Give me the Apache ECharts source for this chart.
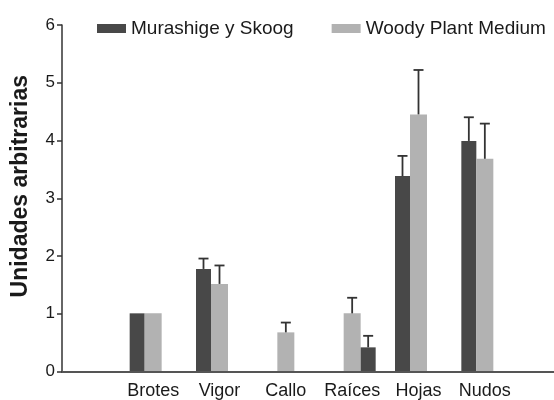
<!DOCTYPE html>
<html>
<head>
<meta charset="utf-8">
<script src="https://cdn.jsdelivr.net/npm/echarts@6/dist/echarts.min.js"></script>
<style>
  html, body { margin: 0; padding: 0; background: #fff; }
  #chart { width: 554px; height: 400px; }
</style>
</head>
<body>
<div id="chart"></div>
<script>
// datos
const categories = ['Brotes', 'Vigor', 'Callo', 'Raíces', 'Hojas', 'Nudos'];
const msValues = [1.0, 1.77, 0, 0.41, 3.38, 3.99];
const msErrors = [0, 0.18, 0, 0.20, 0.35, 0.41];
const wpmValues = [1.0, 1.51, 0.67, 1.0, 4.45, 3.68];
const wpmErrors = [0, 0.32, 0.17, 0.27, 0.77, 0.61];
const yTicks = [0, 1, 2, 3, 4, 5, 6];

// en Raíces la barra oscura va a la derecha de la clara
const swappedIndex = categories.indexOf('Raíces');

const FONT = '"Liberation Sans", Arial, sans-serif';
const DARK = '#484848';
const LIGHT = '#b2b2b2';
const DARK_W = 15;
const LIGHT_W = 17;

const chart = echarts.init(document.getElementById('chart'));

// serie de barras de error; offset en px respecto al centro de la categoría
const errorSeries = (values, errors, offset, keep) => ({
  type: 'custom',
  xAxisIndex: 0,
  yAxisIndex: 0,
  silent: true,
  z: 5,
  data: values.map((v, i) => [i, v, keep(i) ? errors[i] : 0]),
  renderItem: (params, api) => {
    const err = api.value(2);
    if (!err) return null;
    const base = api.coord([api.value(0), api.value(1)]);
    const top = api.coord([api.value(0), api.value(1) + err]);
    const x = base[0] + offset;
    const style = { stroke: '#333', lineWidth: 1.8 };
    return {
      type: 'group',
      children: [
        { type: 'line', shape: { x1: x, y1: base[1], x2: x, y2: top[1] }, style },
        { type: 'line', shape: { x1: x - 5, y1: top[1], x2: x + 5, y2: top[1] }, style }
      ]
    };
  }
});

const option = {
  animation: false,
  textStyle: { fontFamily: FONT },
  legend: {
    data: ['Murashige y Skoog', 'Woody Plant Medium'],
    icon: 'rect',
    left: 97,
    top: 19,
    padding: 0,
    itemWidth: 29,
    itemHeight: 9,
    itemGap: 38,
    textStyle: { fontSize: 19, color: '#1a1a1a', fontFamily: FONT }
  },
  grid: [
    { left: 120, right: 36, top: 25, bottom: 28.5 },
    { left: 62, right: 0, top: 25, bottom: 28.5 }
  ],
  xAxis: [
    {
      type: 'category',
      gridIndex: 0,
      data: categories,
      axisLine: { show: false },
      axisTick: { show: false },
      axisLabel: { fontSize: 18, color: '#1a1a1a', margin: 11, interval: 0 }
    },
    {
      type: 'value',
      gridIndex: 1,
      min: 0,
      max: 1,
      axisLine: { show: true, lineStyle: { color: '#555', width: 2 } },
      axisTick: { show: false },
      axisLabel: { show: false },
      splitLine: { show: false }
    }
  ],
  yAxis: [
    {
      type: 'value',
      gridIndex: 0,
      min: 0,
      max: 6,
      show: false
    },
    {
      type: 'value',
      gridIndex: 1,
      min: 0,
      max: 6,
      interval: 1,
      name: 'Unidades arbitrarias',
      nameLocation: 'middle',
      nameGap: 30,
      nameTextStyle: { fontSize: 23, fontWeight: 'bold', color: '#1a1a1a', padding: [0, 0, 0, 24] },
      axisLine: { show: true, lineStyle: { color: '#333', width: 1.5 } },
      axisTick: { show: true, length: 5, lineStyle: { color: '#333', width: 1.5 } },
      axisLabel: {
        fontSize: 17,
        color: '#1a1a1a',
        margin: 7,
        formatter: v => (yTicks.includes(v) ? String(v) : '')
      },
      splitLine: { show: false }
    }
  ],
  series: [
    {
      name: 'Murashige y Skoog',
      type: 'bar',
      xAxisIndex: 0,
      yAxisIndex: 0,
      barWidth: DARK_W,
      barGap: '0%',
      itemStyle: { color: DARK },
      data: msValues.map((v, i) => (i === swappedIndex ? null : v))
    },
    {
      name: 'Woody Plant Medium',
      type: 'bar',
      xAxisIndex: 0,
      yAxisIndex: 0,
      barWidth: LIGHT_W,
      barGap: '0%',
      itemStyle: { color: LIGHT },
      data: wpmValues
    },
    {
      name: 'Murashige y Skoog',
      type: 'bar',
      xAxisIndex: 0,
      yAxisIndex: 0,
      barWidth: DARK_W,
      barGap: '0%',
      itemStyle: { color: DARK },
      data: msValues.map((v, i) => (i === swappedIndex ? v : null))
    },
    errorSeries(msValues, msErrors, -(DARK_W + LIGHT_W) / 2, i => i !== swappedIndex),
    errorSeries(wpmValues, wpmErrors, 0, () => true),
    errorSeries(msValues, msErrors, (DARK_W + LIGHT_W) / 2, i => i === swappedIndex)
  ]
};

chart.setOption(option);
</script>
</body>
</html>
